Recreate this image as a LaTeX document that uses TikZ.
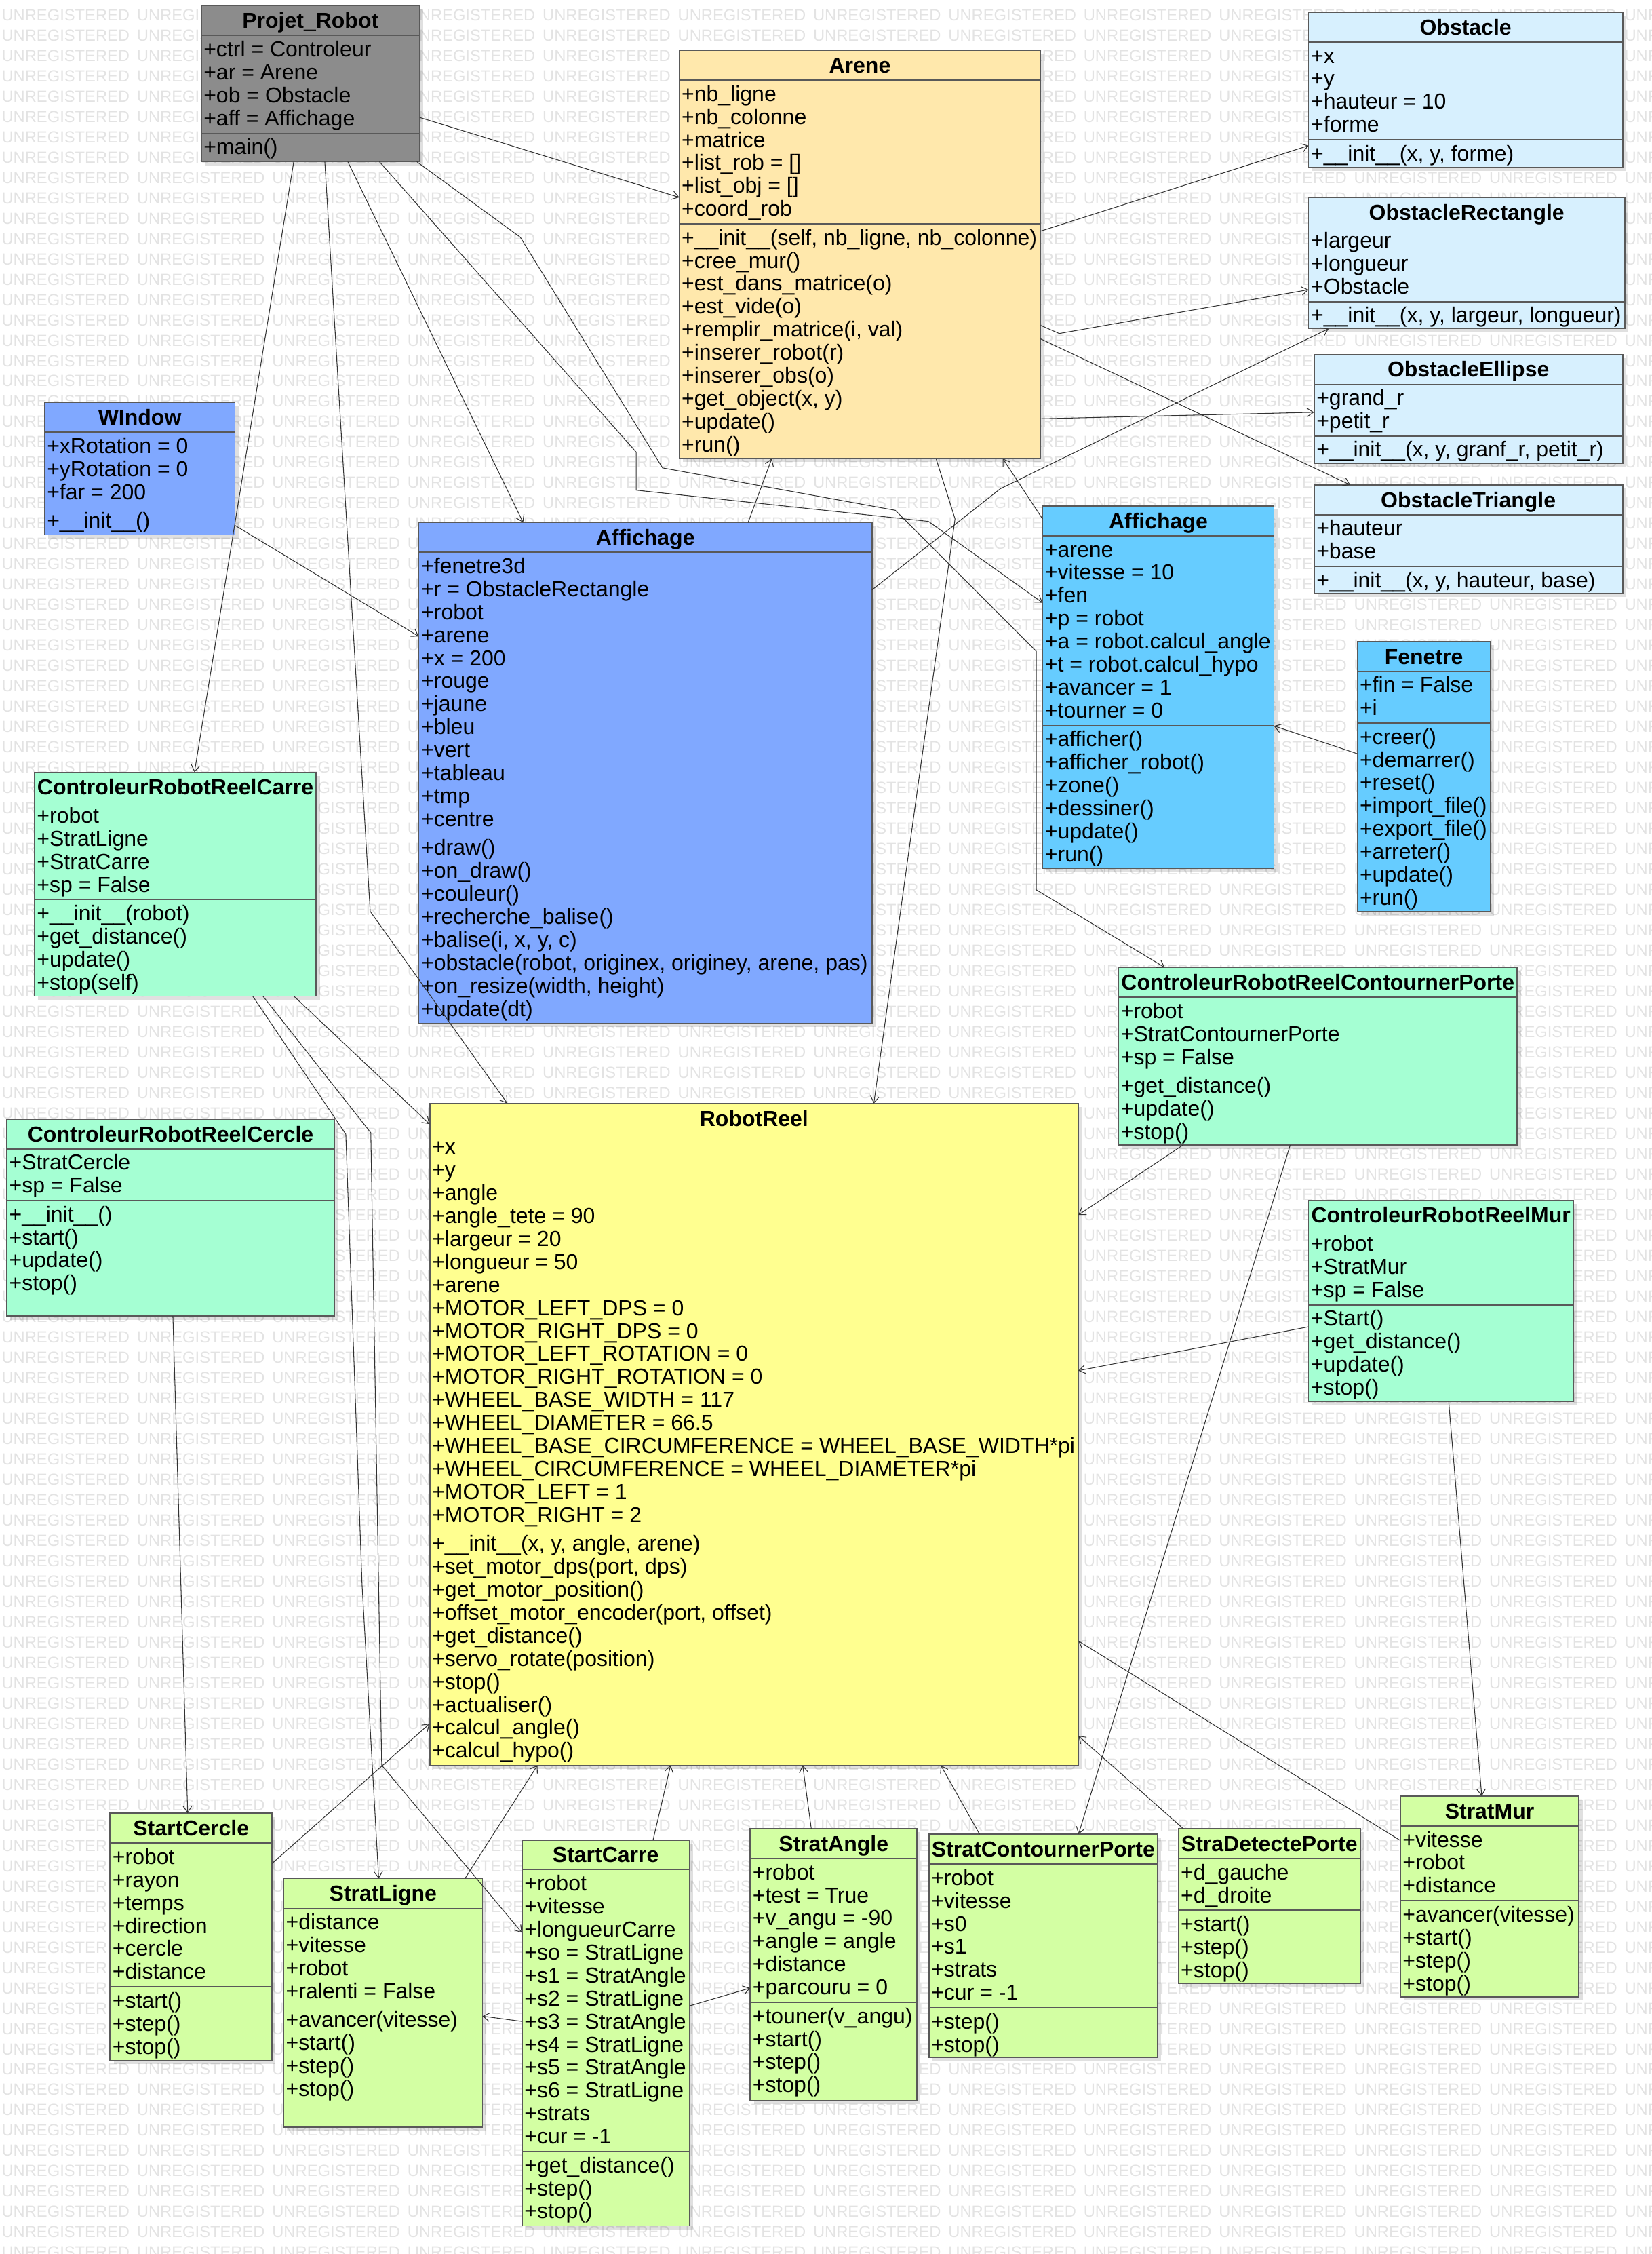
\documentclass[tikz,border=0pt]{standalone}
\usepackage{fontspec}
\setmainfont{Liberation Sans}
\usetikzlibrary{arrows.meta,shadows}
\definecolor{Proj_Gray}{HTML}{8C8C8C}
\definecolor{Arene_Beige}{HTML}{FFE8AC}
\definecolor{Obst_Blue}{HTML}{D7F0FE}
\definecolor{Aff_Blue}{HTML}{80A8FF}
\definecolor{Win_Cyan}{HTML}{66CCFF}
\definecolor{Ctrl_Mint}{HTML}{A5FFD3}
\definecolor{Robot_Yellow}{HTML}{FFFF90}
\definecolor{Strat_Green}{HTML}{D3FFA3}
\definecolor{Line_Gray}{HTML}{595959}

% watermark row and text strut
\newcommand{\wmword}{\makebox[94.1pt][l]{UNREGISTERED}}
\newcommand{\wmrow}{\wmword\wmword\wmword\wmword\wmword\wmword\wmword\wmword\wmword\wmword\wmword\wmword\wmword}
\newcommand{\cstrut}{\rule[-3.3pt]{0pt}{16pt}}

% #1 name, #2 top left, #3 width, #4 height, #5 colour, #6 title, #7 attributes, #8 methods
\newcommand{\umlclass}[8]{%
  \node[classbox, fill=#5, minimum width=#3pt, minimum height=#4pt] (#1) at (#2) {};
  \node[classtitle] (#1-t) at ([yshift=-15.7pt]#1.north) {#6};
  \draw[classline] ([yshift=-20.7pt]#1.north west) -- ([yshift=-20.7pt]#1.north east);
  \node[classtext] (#1-a) at ([yshift=-20.7pt]#1.north west) {\cstrut#7\cstrut};
  \draw[classline] (#1-a.south -| #1.west) -- (#1-a.south -| #1.east);
  \node[classtext] (#1-m) at (#1-a.south -| #1.west) {\cstrut#8\cstrut};
}

\begin{document}
\begin{tikzpicture}[x=1pt, y=-1pt,
    classbox/.style={draw=Line_Gray, line width=0.8pt, anchor=north west, inner sep=0pt, outer sep=0pt,
      drop shadow={shadow xshift=2.5pt, shadow yshift=-2.5pt, fill=black, opacity=0.12}},
    classtitle/.style={anchor=base, inner sep=0pt, font=\bfseries\fontsize{15.1}{16}\selectfont},
    classline/.style={draw=Line_Gray, line width=0.8pt},
    classtext/.style={anchor=north west, align=left, inner xsep=1.5pt, inner ysep=1.8pt,
      font=\fontsize{15.1}{16}\selectfont},
    wmark/.style={anchor=west, inner sep=0pt, text=black!11, font=\fontsize{11.2}{12}\selectfont},
    assoc/.style={draw=black!80, line width=0.5pt, -{Straight Barb[length=4.5pt, width=6pt]}}]

    % Page
    \fill[white] (0,0) rectangle (1149,1568);
    \useasboundingbox (0,0) rectangle (1149,1568);

    % Watermark
    \begin{scope}
      \clip (0,0) rectangle (1149,1568);
      \foreach \r in {0,...,110}
        \node[wmark] (wm\r) at (1,{10.4+14.15*\r}) {\wmrow};
    \end{scope}

    % Top row
    \umlclass{proj}{140,4}{152}{108.5}{Proj_Gray}{Projet\_Robot}
      {+ctrl = Controleur\\+ar = Arene\\+ob = Obstacle\\+aff = Affichage}{+main()}
    \umlclass{arene}{472.6,35}{251.4}{284}{Arene_Beige}{Arene}
      {+nb\_ligne\\+nb\_colonne\\+matrice\\+list\_rob = []\\+list\_obj = []\\+coord\_rob}
      {+\_\_init\_\_(self, nb\_ligne, nb\_colonne)\\+cree\_mur()\\+est\_dans\_matrice(o)\\+est\_vide(o)\\+remplir\_matrice(i, val)\\+inserer\_robot(r)\\+inserer\_obs(o)\\+get\_object(x, y)\\+update()\\+run()}

    % Obstacles
    \umlclass{obst}{910.5,8.5}{218.5}{108}{Obst_Blue}{Obstacle}
      {+x\\+y\\+hauteur = 10\\+forme}{+\_\_init\_\_(x, y, forme)}
    \umlclass{obrect}{910.5,137.2}{220}{91.4}{Obst_Blue}{ObstacleRectangle}
      {+largeur\\+longueur\\+Obstacle}{+\_\_init\_\_(x, y, largeur, longueur)}
    \umlclass{obell}{914.3,246.6}{214.7}{75.6}{Obst_Blue}{ObstacleEllipse}
      {+grand\_r\\+petit\_r}{+\_\_init\_\_(x, y, granf\_r, petit\_r)}
    \umlclass{obtri}{914.3,337.3}{214.7}{75.5}{Obst_Blue}{ObstacleTriangle}
      {+hauteur\\+base}{+\_\_init\_\_(x, y, hauteur, base)}

    % Display classes
    \umlclass{window}{31,280}{132.5}{92}{Aff_Blue}{WIndow}
      {+xRotation = 0\\+yRotation = 0\\+far = 200}{+\_\_init\_\_()}
    \umlclass{aff}{291.4,363.5}{315.3}{348.5}{Aff_Blue}{Affichage}
      {+fenetre3d\\+r = ObstacleRectangle\\+robot\\+arene\\+x = 200\\+rouge\\+jaune\\+bleu\\+vert\\+tableau\\+tmp\\+centre}
      {+draw()\\+on\_draw()\\+couleur()\\+recherche\_balise()\\+balise(i, x, y, c)\\+obstacle(robot, originex, originey, arene, pas)\\+on\_resize(width, height)\\+update(dt)}
    \umlclass{affr}{725.4,352}{161}{252}{Win_Cyan}{Affichage}
      {+arene\\+vitesse = 10\\+fen\\+p = robot\\+a = robot.calcul\_angle\\+t = robot.calcul\_hypo\\+avancer = 1\\+tourner = 0}
      {+afficher()\\+afficher\_robot()\\+zone()\\+dessiner()\\+update()\\+run()}
    \umlclass{fen}{944.4,446.3}{92.6}{188}{Win_Cyan}{Fenetre}
      {+fin = False\\+i}
      {+creer()\\+demarrer()\\+reset()\\+import\_file()\\+export\_file()\\+arreter()\\+update()\\+run()}

    % Controllers
    \umlclass{carre}{24,537.2}{196}{155.7}{Ctrl_Mint}{ControleurRobotReelCarre}
      {+robot\\+StratLigne\\+StratCarre\\+sp = False}{+\_\_init\_\_(robot)\\+get\_distance()\\+update()\\+stop(self)}
    \umlclass{cercle}{4.7,778.5}{228}{137}{Ctrl_Mint}{ControleurRobotReelCercle}
      {+StratCercle\\+sp = False}{+\_\_init\_\_()\\+start()\\+update()\\+stop()}
    \umlclass{cporte}{778.2,673}{277.5}{123.6}{Ctrl_Mint}{ControleurRobotReelContournerPorte}
      {+robot\\+StratContournerPorte\\+sp = False}{+get\_distance()\\+update()\\+stop()}
    \umlclass{mur}{910.4,835}{184.3}{140}{Ctrl_Mint}{ControleurRobotReelMur}
      {+robot\\+StratMur\\+sp = False}{+Start()\\+get\_distance()\\+update()\\+stop()}

    % Robot
    \umlclass{rr}{299,767.6}{451.3}{460.4}{Robot_Yellow}{RobotReel}
      {+x\\+y\\+angle\\+angle\_tete = 90\\+largeur = 20\\+longueur = 50\\+arene\\+MOTOR\_LEFT\_DPS = 0\\+MOTOR\_RIGHT\_DPS = 0\\+MOTOR\_LEFT\_ROTATION = 0\\+MOTOR\_RIGHT\_ROTATION = 0\\+WHEEL\_BASE\_WIDTH = 117\\+WHEEL\_DIAMETER = 66.5\\+WHEEL\_BASE\_CIRCUMFERENCE = WHEEL\_BASE\_WIDTH*pi\\+WHEEL\_CIRCUMFERENCE = WHEEL\_DIAMETER*pi\\+MOTOR\_LEFT = 1\\+MOTOR\_RIGHT = 2}
      {+\_\_init\_\_(x, y, angle, arene)\\+set\_motor\_dps(port, dps)\\+get\_motor\_position()\\+offset\_motor\_encoder(port, offset)\\+get\_distance()\\+servo\_rotate(position)\\+stop()\\+actualiser()\\+calcul\_angle()\\+calcul\_hypo()}

    % Strategies
    \umlclass{scercle}{76.6,1261.4}{112.7}{172}{Strat_Green}{StartCercle}
      {+robot\\+rayon\\+temps\\+direction\\+cercle\\+distance}{+start()\\+step()\\+stop()}
    \umlclass{sligne}{197.3,1306.8}{138.4}{173}{Strat_Green}{StratLigne}
      {+distance\\+vitesse\\+robot\\+ralenti = False}{+avancer(vitesse)\\+start()\\+step()\\+stop()}
    \umlclass{scarre}{363.2,1280}{116.5}{268.4}{Strat_Green}{StartCarre}
      {+robot\\+vitesse\\+longueurCarre\\+so = StratLigne\\+s1 = StratAngle\\+s2 = StratLigne\\+s3 = StratAngle\\+s4 = StratLigne\\+s5 = StratAngle\\+s6 = StratLigne\\+strats\\+cur = -1}
      {+get\_distance()\\+step()\\+stop()}
    \umlclass{sangle}{522,1272.2}{116}{189}{Strat_Green}{StratAngle}
      {+robot\\+test = True\\+v\_angu = -90\\+angle = angle\\+distance\\+parcouru = 0}{+touner(v\_angu)\\+start()\\+step()\\+stop()}
    \umlclass{scporte}{646.3,1276}{159.2}{155.3}{Strat_Green}{StratContournerPorte}
      {+robot\\+vitesse\\+s0\\+s1\\+strats\\+cur = -1}{+step()\\+stop()}
    \umlclass{sdporte}{819.9,1272.2}{126.6}{107.5}{Strat_Green}{StraDetectePorte}
      {+d\_gauche\\+d\_droite}{+start()\\+step()\\+stop()}
    \umlclass{smur}{974.3,1249.5}{124.3}{139.5}{Strat_Green}{StratMur}
      {+vitesse\\+robot\\+distance}{+avancer(vitesse)\\+start()\\+step()\\+stop()}

    % Links from Projet_Robot
    \draw[assoc] ([yshift=-77.7pt]proj.north east) -- ([yshift=-102.3pt]arene.north west);
    \draw[assoc] ([xshift=64.4pt]proj.south west) -- ([xshift=111.3pt]carre.north west);
    \draw[assoc] ([xshift=86pt]proj.south west) -- (257.6,634) -- ([xshift=54pt]rr.north west);
    \draw[assoc] ([xshift=102pt]proj.south west) -- ([xshift=72.6pt]aff.north west);
    \draw[assoc] ([xshift=124pt]proj.south west) -- (442.7,314.6) -- (442.7,341) -- (646,362.7) -- ([yshift=-67.3pt]affr.north west);
    \draw[assoc] ([xshift=150pt]proj.south west) -- (362,165) -- (461,325.5) -- (623,355) -- (721,453) -- (721,619) -- ([xshift=32.2pt]cporte.north west);

    % Links around Arene
    \draw[assoc] ([xshift=229.1pt]aff.north west) -- ([xshift=64.4pt]arene.south west);
    \draw[assoc] ([yshift=-46.9pt]aff.north east) -- (696,340) -- ([xshift=14pt]obrect.south west);
    \draw[assoc] ([yshift=-85.5pt]window.north east) -- ([yshift=-79.2pt]aff.north west);
    \draw[assoc] ([yshift=-125.8pt]arene.north east) -- ([yshift=-92.8pt]obst.north west);
    \draw[assoc] ([yshift=-191.3pt]arene.north east) -- (737,232) -- ([yshift=-64.3pt]obrect.north west);
    \draw[assoc] ([yshift=-200.7pt]arene.north east) -- ([xshift=25.2pt]obtri.north west);
    \draw[assoc] ([yshift=-256.3pt]arene.north east) -- ([yshift=-40.2pt]obell.north west);
    \draw[assoc] ([yshift=-9pt]affr.north west) -- ([xshift=225.1pt]arene.south west);
    \draw[assoc] ([xshift=178.7pt]arene.south west) -- (664.5,361) -- ([xshift=309pt]rr.north west);
    \draw[assoc] ([yshift=-78pt]fen.north west) -- ([yshift=-153pt]affr.north east);

    % Controllers to robot and strategies
    \draw[assoc] ([xshift=119.5pt]cporte.south west) -- ([xshift=104.1pt]scporte.north west);
    \draw[assoc] ([xshift=44.8pt]cporte.south west) -- ([yshift=-77.6pt]rr.north east);
    \draw[assoc] ([yshift=-88pt]mur.north west) -- ([yshift=-185.9pt]rr.north east);
    \draw[assoc] ([xshift=97.6pt]mur.south west) -- ([xshift=56.7pt]smur.north west);
    \draw[assoc] ([xshift=115.6pt]cercle.south west) -- ([xshift=54pt]scercle.north west);
    \draw[assoc] ([xshift=180.4pt]carre.south west) -- ([yshift=-14.4pt]rr.north west);
    \draw[assoc] ([xshift=151.8pt]carre.south west) -- (240.6,789) -- (251.9,1102) -- ([xshift=66.2pt]sligne.north west);
    \draw[assoc] ([xshift=158.9pt]carre.south west) -- (258,788) -- (265.6,1228) -- ([yshift=-64.5pt]scarre.north west);

    % Strategies to robot
    \draw[assoc] ([yshift=-30.8pt]smur.north west) -- ([yshift=-373.9pt]rr.north east);
    \draw[assoc] ([xshift=3.5pt]sdporte.north west) -- ([yshift=-439.9pt]rr.north east);
    \draw[assoc] ([xshift=35.3pt]scporte.north west) -- ([xshift=355.6pt]rr.south west);
    \draw[assoc] ([xshift=42.5pt]sangle.north west) -- ([xshift=259.5pt]rr.south west);
    \draw[assoc] ([xshift=91.2pt]scarre.north west) -- ([xshift=167.6pt]rr.south west);
    \draw[assoc] ([xshift=126.2pt]sligne.north west) -- ([xshift=75pt]rr.south west);
    \draw[assoc] ([yshift=-34.9pt]scercle.north east) -- ([yshift=-431.4pt]rr.north west);
    \draw[assoc] ([yshift=-126.2pt]scarre.north west) -- ([yshift=-95.7pt]sligne.north east);
    \draw[assoc] ([yshift=-115.4pt]scarre.north east) -- ([yshift=-110.8pt]sangle.north west);

\end{tikzpicture}
\end{document}
